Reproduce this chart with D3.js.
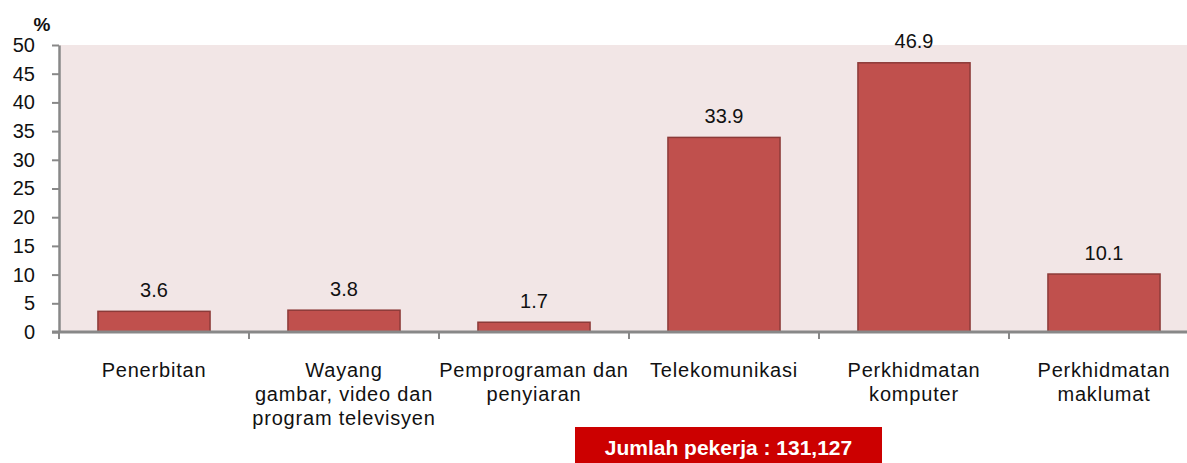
<!DOCTYPE html>
<html>
<head>
<meta charset="utf-8">
<script src="https://cdn.jsdelivr.net/npm/d3@7"></script>
<style>
  html, body { margin: 0; padding: 0; background: #fff; }
  svg { display: block; font-family: "Liberation Sans", Arial, sans-serif; }
</style>
</head>
<body>
<div id="chart"></div>
<script>
// Jumlah pekerja by sub-sector (%)
const categories = ['Penerbitan', 'Wayang', 'Pemprograman', 'Telekomunikasi', 'Komputer', 'Maklumat'];
const labelLines = [
  ['Penerbitan'],
  ['Wayang', 'gambar, video dan', 'program televisyen'],
  ['Pemprograman dan', 'penyiaran'],
  ['Telekomunikasi'],
  ['Perkhidmatan', 'komputer'],
  ['Perkhidmatan', 'maklumat'],
];
const values = [3.6, 3.8, 1.7, 33.9, 46.9, 10.1];
const yTicks = [0, 5, 10, 15, 20, 25, 30, 35, 40, 45, 50];
const footText = 'Jumlah pekerja : 131,127';

const W = 1187, H = 463;
const mLeft = 59, mRight = 1199, mTop = 45, mBottom = 332;

const svg = d3.select('#chart').append('svg')
  .attr('width', W).attr('height', H);

const x = d3.scaleBand().domain(categories).range([mLeft, mRight])
  .paddingInner(0.41).paddingOuter(0.205);
const y = d3.scaleLinear().domain([0, 50]).range([mBottom, mTop]);

// plot background
svg.append('rect')
  .attr('x', mLeft).attr('y', mTop)
  .attr('width', mRight - mLeft).attr('height', mBottom - mTop)
  .attr('fill', '#f2e6e6');

// bars
svg.append('g').selectAll('rect').data(values).join('rect')
  .attr('x', (d, i) => x(categories[i]))
  .attr('y', d => y(d))
  .attr('width', x.bandwidth())
  .attr('height', d => y(0) - y(d))
  .attr('fill', '#c0504d')
  .attr('stroke', '#8c3a38').attr('stroke-width', 1.5);

// value labels
svg.append('g').selectAll('text').data(values).join('text')
  .attr('x', (d, i) => x(categories[i]) + x.bandwidth() / 2)
  .attr('y', d => y(d) - 14.5)
  .attr('text-anchor', 'middle')
  .attr('font-size', 20).attr('fill', '#111')
  .text(d => d.toFixed(1));

// y axis
const yAxis = svg.append('g')
  .attr('transform', `translate(${mLeft},0)`)
  .call(d3.axisLeft(y).tickValues(yTicks).tickSize(7).tickPadding(17).tickSizeOuter(0));
yAxis.select('.domain').attr('stroke', '#888').attr('stroke-width', 2.5);
yAxis.selectAll('.tick line').attr('stroke', '#888').attr('stroke-width', 2);
yAxis.selectAll('.tick text').attr('font-size', 20).attr('fill', '#111')
  .attr('font-family', '"Liberation Sans", Arial, sans-serif');

// x axis line + boundary ticks
const bounds = d3.range(categories.length + 1).map(i => mLeft + i * x.step());
svg.append('line')
  .attr('x1', mLeft - 7).attr('x2', mRight)
  .attr('y1', mBottom).attr('y2', mBottom)
  .attr('stroke', '#888').attr('stroke-width', 3);
svg.append('g').selectAll('line').data(bounds).join('line')
  .attr('x1', d => d).attr('x2', d => d)
  .attr('y1', mBottom).attr('y2', mBottom + 7)
  .attr('stroke', '#888').attr('stroke-width', 2);

// category labels
const lab = svg.append('g').selectAll('text').data(labelLines).join('text')
  .attr('text-anchor', 'middle')
  .attr('font-size', 20).attr('fill', '#111')
  .attr('letter-spacing', 0.8);
lab.selectAll('tspan').data((d, i) => d.map(t => ({ t, i }))).join('tspan')
  .attr('x', d => x(categories[d.i]) + x.bandwidth() / 2)
  .attr('y', (d, j) => 377 + j * 24)
  .text(d => d.t);

// unit
svg.append('text')
  .attr('x', 42).attr('y', 31)
  .attr('text-anchor', 'middle')
  .attr('font-size', 19).attr('font-weight', 'bold').attr('fill', '#111')
  .text('%');

// footer box
const fx = 575, fw = 307;
svg.append('rect')
  .attr('x', fx).attr('y', 427).attr('width', fw).attr('height', 40)
  .attr('fill', '#cc0000');
svg.append('text')
  .attr('x', fx + fw / 2).attr('y', 455)
  .attr('text-anchor', 'middle')
  .attr('font-size', 21).attr('font-weight', 'bold').attr('fill', '#fff')
  .text(footText);
</script>
</body>
</html>
